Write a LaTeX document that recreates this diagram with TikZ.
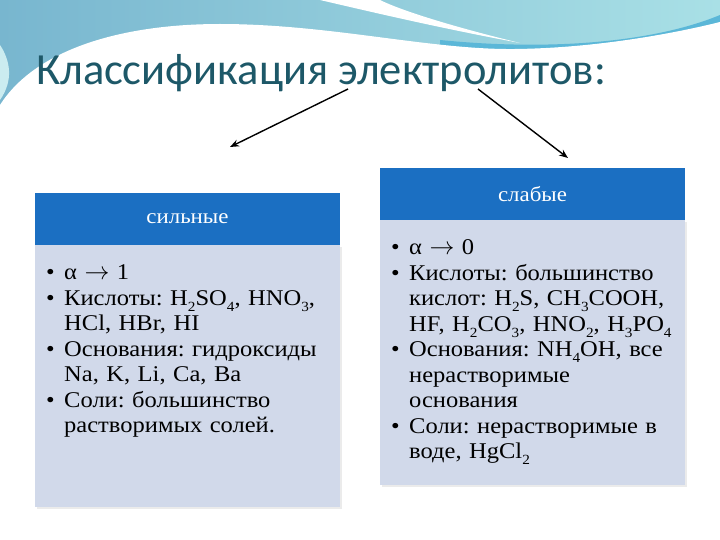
\documentclass[tikz,border=0pt]{standalone}
\usepackage{fontspec}
\setmainfont{Liberation Serif}[FakeStretch=1.09]
\newfontfamily\titlefont{Carlito}
\usetikzlibrary{arrows.meta,positioning}
\definecolor{headblue}{HTML}{1B6FC2}
\definecolor{bodylav}{HTML}{D1D9EA}
\definecolor{titleteal}{HTML}{1D5868}
\definecolor{wavegrey}{HTML}{78B6CF}
\definecolor{wavecyan}{HTML}{A9E0E6}
\definecolor{waveband}{HTML}{5BB7D8}
\newcommand{\chsub}[1]{\raisebox{-0.6ex}{\fontsize{14}{14}\selectfont #1}}
\newcommand{\bitem}{\par\hangindent=18pt\hangafter=1\noindent\makebox[18pt][l]{•}}
\newcommand{\tends}{{\fontsize{27}{27}\selectfont$\rightarrow$}}

\begin{document}
\begin{tikzpicture}[x=1pt,y=-1pt,
                    head/.style={fill=headblue,text=white,minimum width=305,minimum height=52,inner sep=0,font=\fontsize{21}{24}\selectfont},
                    bodytext/.style={anchor=north west,text width=292,inner sep=0,font=\fontsize{22.5}{25.5}\selectfont\frenchspacing\raggedright},
                    link/.style={-{Stealth[length=9pt,width=7pt]},line width=1.4pt}
                ]
                    \useasboundingbox (0,0) rectangle (720,540);

                    % wave at the top
                    \shade[left color=wavegrey,right color=wavecyan] (0,0) rectangle (720,115);
                    \fill[waveband] (440,40) .. controls (560,52) and (660,40) .. (720,15) -- (720,28)
                        .. controls (660,50) and (560,58) .. (440,46) -- cycle;
                    \fill[white] (0,105) .. controls (35,50) and (120,24) .. (220,24)
                        .. controls (330,24) and (430,50) .. (515,49)
                        .. controls (600,48) and (680,32) .. (720,22) -- (720,115) -- (0,115) -- cycle;
                    \fill[white] (320,0) .. controls (380,14) and (440,28) .. (520,43)
                        .. controls (450,26) and (400,10) .. (380,0) -- cycle;
                    \fill[white!40!wavecyan] (0,45) .. controls (10,60) and (14,80) .. (0,100) -- cycle;

                    \node[anchor=base west,inner sep=0,text=titleteal,font=\titlefont\fontsize{44.5}{48}\selectfont] (title) at (36,85) {Классификация электролитов:};

                    % boxes
                    \fill[black!8] (37,247) rectangle (342,509);
                    \fill[bodylav] (35,245) rectangle (340,507);
                    \node[head] (strong) at (187.5,219) {сильные};
                    \fill[black!8] (382,222) rectangle (687,487);
                    \fill[bodylav] (380,220) rectangle (685,485);
                    \node[head] (weak) at (532.5,194) {слабые};

                    \node[bodytext] (strongtext) at (46,254) {%
                        \bitem α \tends\ 1
                        \bitem Кислоты: H\chsub2SO\chsub4, HNO\chsub3,\newline HCl, HBr, HI
                        \bitem Основания: гидроксиды\newline Na, K, Li, Ca, Ba
                        \bitem Соли: большинство\newline растворимых солей.\par};
                    \node[bodytext] (weaktext) at (391,229) {%
                        \bitem α \tends\ 0
                        \bitem Кислоты: большинство\newline кислот: H\chsub2S, CH\chsub3COOH,\newline HF, H\chsub2CO\chsub3, HNO\chsub2, H\chsub3PO\chsub4
                        \bitem Основания: NH\chsub4OH, все\newline нерастворимые\newline основания
                        \bitem Соли: нерастворимые в\newline воде, HgCl\chsub2\par};

                    \coordinate (lstart) at (348,89);
                    \coordinate (lend) at (230,147);
                    \coordinate (rstart) at (478,89);
                    \coordinate (rend) at (568,158);
                    \draw[link] (lstart) -- (lend);
                    \draw[link] (rstart) -- (rend);

                \end{tikzpicture}
\end{document}
